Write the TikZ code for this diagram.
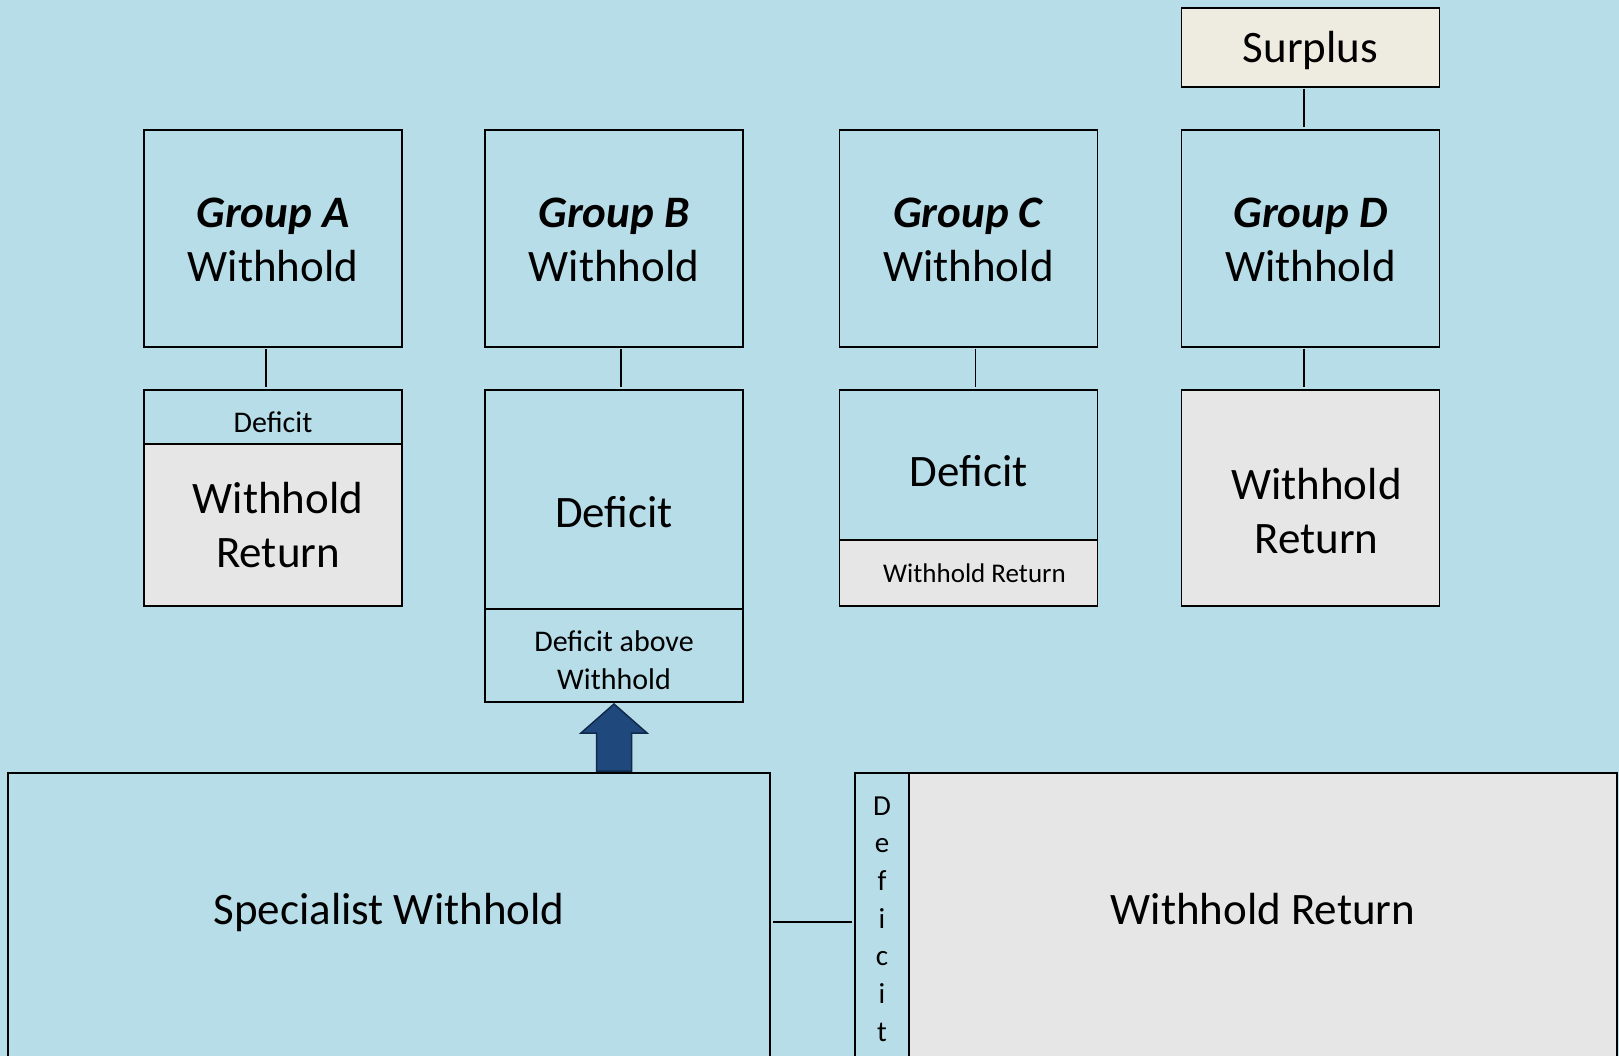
\documentclass[tikz,border=0pt]{standalone}
\usepackage{fontspec}
\setmainfont{Carlito}
\usepackage{tikz}
\usetikzlibrary{positioning}

\definecolor{paleblue}{HTML}{B7DDE8}
\definecolor{palegray}{HTML}{E6E6E6}
\definecolor{surplustan}{HTML}{EEECE1}
\definecolor{pushblue}{HTML}{1F497D}
\definecolor{pushedge}{HTML}{11294A}

\newcommand{\bigtxt}{\fontsize{45}{54}\selectfont}
\newcommand{\smalltxt}{\fontsize{30}{38}\selectfont}
\newcommand{\tinytxt}{\fontsize{27}{33}\selectfont}
\newcommand{\vertxt}{\fontsize{29}{37.7}\selectfont}

\begin{document}
\begin{tikzpicture}[x=1pt, y=-1pt,
    box/.style={draw, line width=1.8pt, outer sep=0pt, inner sep=0pt, minimum width=258pt, fill=paleblue},
    ret/.style={box, fill=palegray},
    big/.style={font=\bigtxt, align=center},
    small/.style={font=\smalltxt, align=center},
    link/.style={draw, line width=1.8pt, shorten <=2pt, shorten >=3pt},
    pusharrow/.style={draw=pushedge, fill=pushblue, line width=1.5pt, line join=miter}]
    \useasboundingbox (0,0) rectangle (1619,1056);
    \clip (0,0) rectangle (1619,1056);
    \fill[paleblue] (0,0) rectangle (1619,1056);

    \node[box, fill=surplustan, minimum height=79pt, label={[big, yshift=-3pt]center:Surplus}] (surplus) at (1310.5,47.5) {};

    \node[box, minimum height=217pt, label={[big, yshift=-1pt]center:\textbf{\textit{Group A}}\\Withhold}] (groupa) at (273,238.5) {};
    \node[box, minimum height=217pt, label={[big, yshift=-1pt]center:\textbf{\textit{Group B}}\\Withhold}] (groupb) at (614,238.5) {};
    \node[box, minimum height=217pt, label={[big, yshift=-1pt]center:\textbf{\textit{Group C}}\\Withhold}] (groupc) at (968.5,238.5) {};
    \node[box, minimum height=217pt, label={[big, yshift=-1pt]center:\textbf{\textit{Group D}}\\Withhold}] (groupd) at (1310.5,238.5) {};

    \node[box, anchor=north, minimum height=54pt, label={[small, yshift=-5pt]center:Deficit}] (defa) at (273,390) {};
    \node[ret, below=0pt of defa, minimum height=162pt, label={[big, xshift=5pt]center:Withhold\\Return}] (reta) {};

    \node[box, anchor=north, minimum height=219pt, label={[big, yshift=-13pt]center:Deficit}] (defb) at (614,390) {};
    \node[box, below=0pt of defb, minimum height=93pt, label={[small, yshift=-5pt]center:Deficit above\\Withhold}] (aboveb) {};

    \node[box, anchor=north, minimum height=150pt, label={[big, yshift=-6pt]center:Deficit}] (defc) at (968.5,390) {};
    \node[ret, below=0pt of defc, minimum height=66pt, label={[font=\tinytxt, xshift=6pt]center:Withhold Return}] (retc) {};

    \node[ret, anchor=north, minimum height=216pt, label={[big, xshift=6pt, yshift=-13pt]center:Withhold\\Return}] (retd) at (1310.5,390) {};

    \node[box, anchor=north west, minimum width=762pt, minimum height=290pt, label={[big, yshift=6pt]center:Specialist Withhold}] (spec) at (8,773) {};
    \node[box, anchor=north west, minimum width=54pt, minimum height=290pt, label={[font=\vertxt, align=center, yshift=-1pt]center:D\\e\\f\\i\\c\\i\\t}] (defstrip) at (855,773) {};
    \node[ret, right=0pt of defstrip, minimum width=708pt, minimum height=290pt, label={[big, yshift=9pt]center:Withhold Return}] (specret) {};

    \draw[link] ([xshift=-6.5pt]surplus.south) -- ([xshift=-6.5pt]groupd.north);
    \draw[link] ([xshift=-7pt]groupa.south) -- ([xshift=-7pt]defa.north);
    \draw[link] ([xshift=7pt]groupb.south) -- ([xshift=7pt]defb.north);
    \draw[link] ([xshift=7pt]groupc.south) -- ([xshift=7pt]defc.north);
    \draw[link] ([xshift=-6.5pt]groupd.south) -- ([xshift=-6.5pt]retd.north);
    \draw[link, shorten <=3pt] ([yshift=-4pt]spec.east) -- ([yshift=-4pt]defstrip.west);

    % block arrow from the specialist box up to group B
    \draw[pusharrow] ([yshift=-2pt]aboveb.south) -- +(33,29) -- +(17.5,29) -- +(17.5,67) -- +(-17.5,67) -- +(-17.5,29) -- +(-33,29) -- cycle;
\end{tikzpicture}
\end{document}
